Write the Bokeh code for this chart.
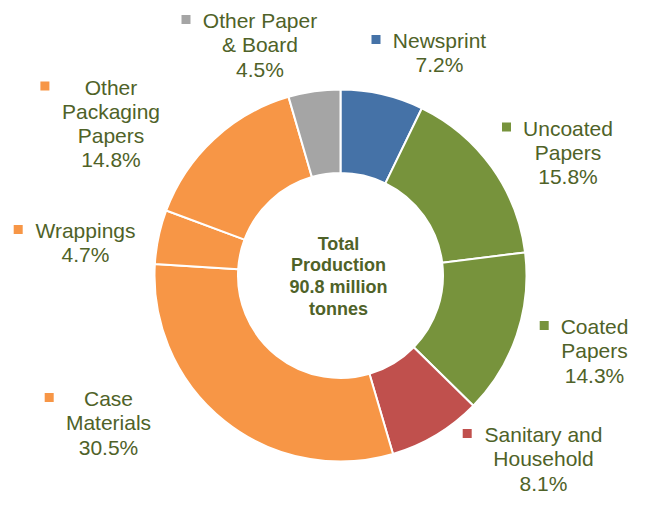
import math
from bokeh.plotting import figure
from bokeh.models import Range1d, ColumnDataSource
from bokeh.core.properties import value
from bokeh.embed import file_html
from bokeh.resources import INLINE

# ---- data ----
categories = ["Newsprint", "Uncoated Papers", "Coated Papers", "Sanitary and Household",
              "Case Materials", "Wrappings", "Other Packaging Papers", "Other Paper & Board"]
shares = [7.2, 15.8, 14.3, 8.1, 30.5, 4.7, 14.8, 4.5]
label_lines = [["Newsprint"], ["Uncoated", "Papers"], ["Coated", "Papers"],
               ["Sanitary and", "Household"], ["Case", "Materials"], ["Wrappings"],
               ["Other", "Packaging", "Papers"], ["Other Paper", "& Board"]]
center_lines = ["Total", "Production", "90.8 million", "tonnes"]

# ---- styles / layout ----
colors = ["#4572A7", "#77933C", "#77933C", "#C0504D", "#F79646", "#F79646", "#F79646", "#A5A5A5"]
text_color = "#4F6228"
W, H = 630, 496
CX, CY = 340, 275           # reference pixel coords
R_OUT, R_IN = 186, 102.5
# label anchor: (center x of text block, y of first line), legend square x
label_pos = [(439, 40, 375.5), (567.5, 127.5, 506), (594, 326, 543.7), (543, 434, 466.7),
             (108, 398, 48.7), (85, 230, 17.7), (110.5, 86.5, 44.4), (259.5, 20, 185.5)]
LINE_H = 24.3

def Y(y):  # convert reference pixel y to data y
    return 512 - y

p = figure(width=W, height=H, output_backend="svg", toolbar_location=None,
           x_range=Range1d(0, W), y_range=Range1d(512 - H, 512),
           min_border=0)
p.axis.visible = False
p.grid.visible = False
p.outline_line_color = None
p.background_fill_color = "white"
p.border_fill_color = "white"

total = sum(shares)
starts, ends = [], []
cum = 0.0
for s in shares:
    a0 = 90 - (cum + s) / total * 360
    a1 = 90 - cum / total * 360
    starts.append(a0)
    ends.append(a1)
    cum += s

src = ColumnDataSource(dict(start=starts, end=ends, color=colors))
p.annular_wedge(x=CX, y=Y(CY), inner_radius=R_IN, outer_radius=R_OUT,
                start_angle="start", end_angle="end", start_angle_units="deg",
                end_angle_units="deg", fill_color="color", line_color="white",
                line_width=2, source=src)

# labels
tx, ty, tt = [], [], []
sqx, sqy, sqc = [], [], []
for lines, s, (lx, ly, sx), c in zip(label_lines, shares, label_pos, colors):
    all_lines = lines + [f"{s:.1f}%"]
    for i, t in enumerate(all_lines):
        tx.append(lx)
        ty.append(Y(ly + i * LINE_H))
        tt.append(t)
    sqx.append(sx)
    sqy.append(Y(ly - 1))
    sqc.append(c)

p.text(x=tx, y=ty, text=tt, text_align="center", text_baseline="middle",
       text_font=value("Liberation Sans"), text_font_size="21px", text_color=text_color)
p.scatter(x=sqx, y=sqy, marker="square", size=9, fill_color=sqc, line_color=None)

# center text
cy0 = 243
p.text(x=[338] * len(center_lines), y=[Y(cy0 + i * 21.7) for i in range(len(center_lines))],
       text=center_lines, text_align="center", text_baseline="middle",
       text_font=value("Liberation Sans"), text_font_size="18px", text_font_style="bold",
       text_color=text_color)

open("out.html", "w").write(file_html(p, INLINE))
